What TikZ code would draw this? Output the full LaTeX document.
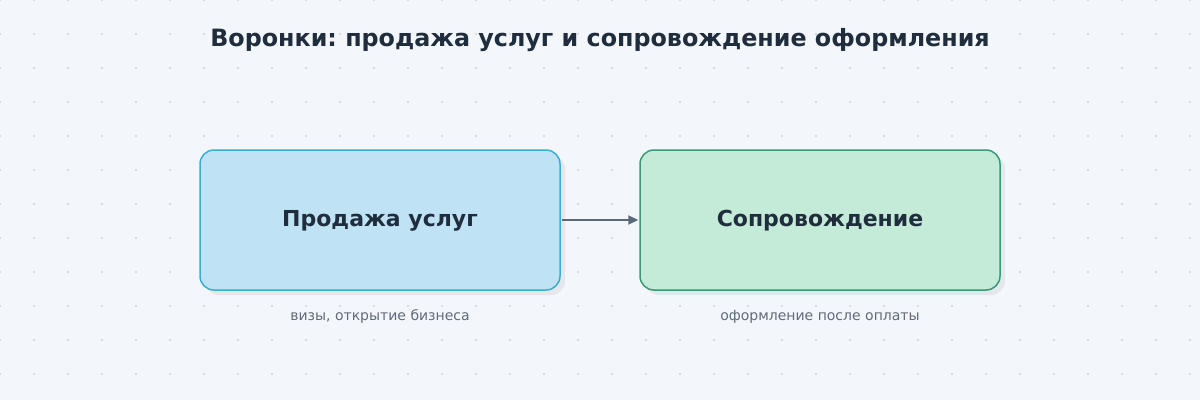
\documentclass[tikz,border=0pt]{standalone}
\usepackage{fontspec}
\setmainfont{DejaVu Sans}
\usetikzlibrary{arrows.meta}
\frenchspacing
\definecolor{bg}{HTML}{F3F6FA}
\definecolor{dotc}{HTML}{D5DAE2}
\definecolor{ink}{HTML}{1F2D3D}
\definecolor{sub}{HTML}{5F6B7A}
\definecolor{bluef}{HTML}{BFE2F5}
\definecolor{blued}{HTML}{3AAED0}
\definecolor{greenf}{HTML}{C4EAD8}
\definecolor{greend}{HTML}{3A9A78}
\definecolor{shad}{HTML}{E4E7EC}
\definecolor{arrc}{HTML}{5B6877}
\tikzset{
  x=1pt,y=-1pt,
  box/.style={rounded corners=14pt,line width=1.5pt,minimum width=360pt,minimum height=140pt,inner sep=0pt,
    font=\fontsize{22}{26}\selectfont\bfseries,text=ink},
  shadowbox/.style={rounded corners=14pt,fill=shad,minimum width=360pt,minimum height=140pt,inner sep=0pt},
  sublabel/.style={font=\fontsize{14}{16}\selectfont,text=sub},
  conn/.style={draw=arrc,line width=2pt,-{Triangle[length=10pt,width=9pt]}}
}
\begin{document}
\begin{tikzpicture}
\fill[bg] (0,0) rectangle (1200,400);
\useasboundingbox (0,0) rectangle (1200,400);
\foreach \i in {0,...,35}{\foreach \j in {0,...,11}{
  \fill[dotc] (\i*34-1,\j*34-1) rectangle ++(2.2,2.2);}}
\node[font=\fontsize{23.8}{28}\selectfont\bfseries,text=ink] (title) at (600,40) {Воронки: продажа услуг и сопровождение оформления};
\node[shadowbox] (s1) at (385,225) {};
\node[shadowbox] (s2) at (825,225) {};
\node[box,fill=bluef,draw=blued] (a) at (380,220) {};
\node[box,fill=greenf,draw=greend] (b) at (820,220) {};
\node[font=\fontsize{22}{26}\selectfont\bfseries,text=ink] (ta) at (380,221) {Продажа услуг};
\node[font=\fontsize{22}{26}\selectfont\bfseries,text=ink] (tb) at (820,221) {Сопровождение};
\node[sublabel] (la) at (380,316.5) {визы, открытие бизнеса};
\node[sublabel] (lb) at (820,316.5) {оформление после оплаты};
\draw[conn] ([xshift=1pt]a.east) -- ([xshift=-1pt]b.west);
\end{tikzpicture}
\end{document}
